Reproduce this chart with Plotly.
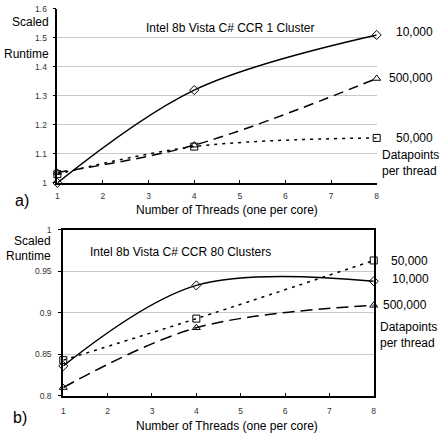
import plotly.graph_objects as go

threads = [1, 4, 8]
xticks = [1, 2, 3, 4, 5, 6, 7, 8]

# Panel a) Intel 8b Vista C# CCR 1 Cluster
a_10k = [1.0, 1.32, 1.51]
a_500k = [1.036, 1.13, 1.36]
a_50k = [1.03, 1.125, 1.155]

# Panel b) Intel 8b Vista C# CCR 80 Clusters
b_10k = [0.836, 0.933, 0.938]
b_500k = [0.81, 0.882, 0.909]
b_50k = [0.843, 0.893, 0.963]

W, H = 440, 438
FONT = "Liberation Sans, Arial, sans-serif"


def px(x, y):
    return x / W, 1 - y / H


fig = go.Figure()

series = [
    ("x", "y", a_10k, "solid", "diamond-open", 7),
    ("x", "y", a_500k, "10px,6px", "triangle-up-open", 7),
    ("x", "y", a_50k, "3px,5px", "square-open", 7),
    ("x2", "y2", b_10k, "solid", "diamond-open", 7),
    ("x2", "y2", b_500k, "12px,6px", "triangle-up-open", 7),
    ("x2", "y2", b_50k, "3px,5px", "square-open", 7),
]
for xa, ya, vals, dash, sym, size in series:
    fig.add_trace(go.Scatter(
        x=threads, y=vals, xaxis=xa, yaxis=ya, mode="lines+markers",
        line=dict(color="black", width=1.5, dash=dash, shape="spline", smoothing=1.0),
        marker=dict(symbol=sym, size=size, color="black", line=dict(width=1)),
        cliponaxis=False, showlegend=False,
    ))

tickfont = dict(family=FONT, size=8.5, color="#333")
fig.update_layout(
    width=W, height=H, margin=dict(l=0, r=0, t=0, b=0),
    paper_bgcolor="white", plot_bgcolor="white",
    font=dict(family=FONT, color="black"),
    xaxis=dict(domain=[56 / W, 379 / W], range=[1, 8], tickvals=xticks,
               showgrid=False, zeroline=False, showline=True, linecolor="black",
               linewidth=1.5, ticks="inside", ticklen=3, tickcolor="black",
               tickfont=tickfont, ticklabelstandoff=4, anchor="y"),
    yaxis=dict(domain=[1 - 182 / H, 1 - 4 / H], range=[1, 1.6], dtick=0.1,
               showgrid=True, gridcolor="#c8c8c8", gridwidth=1, zeroline=False,
               showline=True, linecolor="black", linewidth=1.5,
               ticks="outside", ticklen=3, tickcolor="black",
               tickfont=tickfont, ticklabelstandoff=4, anchor="x"),
    xaxis2=dict(domain=[62 / W, 376 / W], range=[1, 8], tickvals=xticks,
                showgrid=False, zeroline=False, showline=True, mirror=True,
                linecolor="black", linewidth=2, ticks="inside", ticklen=3,
                tickcolor="black", tickfont=tickfont, ticklabelstandoff=6,
                anchor="y2"),
    yaxis2=dict(domain=[1 - 400 / H, 1 - 230 / H], range=[0.8, 1], dtick=0.05,
                showgrid=True, gridcolor="#c8c8c8", gridwidth=1, zeroline=False,
                showline=True, mirror=True, linecolor="black", linewidth=2,
                ticks="outside", ticklen=3, tickcolor="black",
                tickfont=tickfont, ticklabelstandoff=5, anchor="x2"),
)

notes = [
    # (text, x, y, xanchor, size)
    ("Scaled", 50, 17, "right", 12),
    ("Runtime", 50, 50, "right", 12),
    ("Intel 8b Vista C# CCR 1 Cluster", 144, 24, "left", 12),
    ("10,000", 397, 28, "left", 12),
    ("500,000", 389, 75, "left", 12),
    ("50,000", 397, 136, "left", 12),
    ("Datapoints", 382, 154, "left", 12),
    ("per thread", 382, 170, "left", 12),
    ("Number of Threads (one per core)", 228, 210, "center", 12),
    ("a)", 11, 200, "left", 16),
    ("Scaled", 52, 242, "right", 12),
    ("Runtime", 52, 257, "right", 12),
    ("Intel 8b Vista C# CCR 80 Clusters", 87, 253, "left", 12),
    ("50,000", 391, 262, "left", 12),
    ("10,000", 392, 280, "left", 12),
    ("500,000", 383, 307, "left", 12),
    ("Datapoints", 380, 330, "left", 12),
    ("per thread", 380, 346, "left", 12),
    ("Number of Threads (one per core)", 228, 431, "center", 12),
    ("b)", 9, 422, "left", 16),
]
for text, x, y, xa, size in notes:
    xp, yp = px(x, y)
    fig.add_annotation(text=text, x=xp, y=yp, xref="paper", yref="paper",
                       xanchor=xa, yanchor="middle", showarrow=False,
                       font=dict(family=FONT, size=size, color="black"))

fig.write_html("out.html")
